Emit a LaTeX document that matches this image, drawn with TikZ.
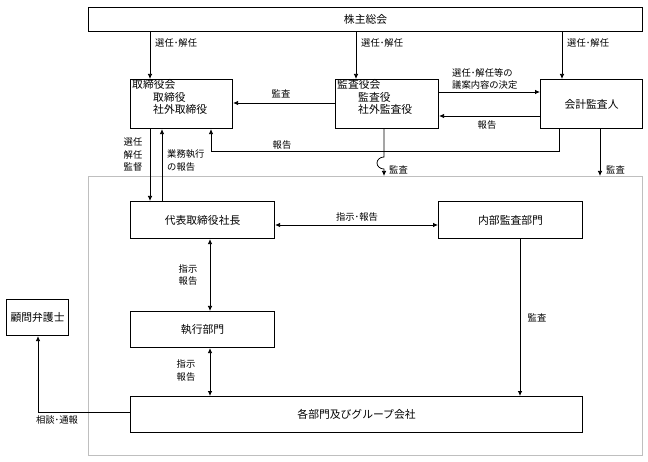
\documentclass[tikz,border=0pt]{standalone}
\usepackage{fontspec}
\setmainfont{Noto Sans CJK JP}
\usetikzlibrary{arrows.meta}
\begin{document}
\begin{tikzpicture}[x=1pt,y=-1pt,
  box/.style={draw, line width=1.1pt, inner sep=0pt, anchor=north west},
  txt/.style={font=\fontsize{10.8pt}{12.5pt}\selectfont, inner sep=0pt},
  lbl/.style={font=\fontsize{9.3pt}{12.7pt}\selectfont, inner sep=0pt},
  con/.style={line width=0.75pt, -{Latex[length=5pt,width=4.5pt]}},
  dcon/.style={line width=0.75pt, {Latex[length=5pt,width=4.5pt]}-{Latex[length=5pt,width=4.5pt]}},
  ln/.style={line width=0.75pt}]
\useasboundingbox (0,0) rectangle (648,462);
% boxes
\node[box, minimum width=554pt, minimum height=24pt] (top) at (88,7) {};
\node[txt] (topt) at (top.center) {株主総会};
\node[box, minimum width=102pt, minimum height=49pt] (tori) at (130,79) {};
\node[txt, anchor=north west, align=left] (torit) at (132,79.5) {取締役会\\\hspace*{21pt}取締役\\\hspace*{21pt}社外取締役};
\node[box, minimum width=103pt, minimum height=49pt] (kan) at (335,79) {};
\node[txt, anchor=north west, align=left] (kant) at (337,79.5) {監査役会\\\hspace*{21pt}監査役\\\hspace*{21pt}社外監査役};
\node[box, minimum width=102pt, minimum height=49pt] (kai) at (540,79) {};
\node[txt] (kait) at (kai.center) {会計監査人};
\node[draw=black!25, line width=0.8pt, inner sep=0pt, anchor=north west, minimum width=554pt, minimum height=279pt] (corp) at (88,176) {};
\node[box, minimum width=144pt, minimum height=37pt] (pres) at (130,201) {};
\node[txt] (prest) at (pres.center) {代表取締役社長};
\node[box, minimum width=144pt, minimum height=37pt] (nai) at (438,201) {};
\node[txt] (nait) at (nai.center) {内部監査部門};
\node[box, minimum width=144pt, minimum height=36pt] (shik) at (130,311) {};
\node[txt] (shikt) at (shik.center) {執行部門};
\node[box, minimum width=452pt, minimum height=36pt] (kaku) at (130,396) {};
\node[txt] (kakut) at (kaku.center) {各部門及びグループ会社};
\node[box, minimum width=62pt, minimum height=36pt] (ben) at (6,299) {};
\node[txt] (bent) at (ben.center) {顧問弁護士};
% x positions
\coordinate (x1) at (150,0);
\coordinate (x2) at (356,0);
\coordinate (x3) at (562,0);
\coordinate (x4) at (162,0);
\coordinate (x5) at (211,0);
\coordinate (x6) at (384,0);
\coordinate (x7) at (559,0);
\coordinate (x8) at (600,0);
\coordinate (x9) at (210,0);
\coordinate (x10) at (520,0);
\coordinate (x11) at (38,0);
\coordinate (y1) at (0,92);
\coordinate (y2) at (0,103);
\coordinate (y3) at (0,116);
\coordinate (y4) at (0,151);
\coordinate (y5) at (0,225);
\coordinate (y6) at (0,412);
% top arrows
\draw[con] (x1 |- top.south) -- (x1 |- tori.north);
\draw[con] (x2 |- top.south) -- (x2 |- kan.north);
\draw[con] (x3 |- top.south) -- (x3 |- kai.north);
\node[lbl, anchor=west] (l1) at (155,43) {選任･解任};
\node[lbl, anchor=west] (l2) at (361,43) {選任･解任};
\node[lbl, anchor=west] (l3) at (567,43) {選任･解任};
% between upper boxes
\draw[con] (kan.west |- y2) -- (tori.east |- y2);
\node[lbl] (l4) at (281,94) {監査};
\draw[con] (kan.east |- y1) -- (kai.west |- y1);
\node[lbl, anchor=north west, align=left] (l5) at (452,68) {選任･解任等の\\議案内容の決定};
\draw[con] (kai.west |- y3) -- (kan.east |- y3);
\node[lbl] (l6) at (487,125) {報告};
% report loop
\draw[con] (x7 |- kai.south) -- (x7 |- y4) -- (x5 |- y4) -- (x5 |- tori.south);
\node[lbl] (l7) at (282,145) {報告};
% audit with jump
\draw[con] (x6 |- kan.south) -- ([yshift=-6pt]x6 |- y4) arc[start angle=90, end angle=270, x radius=7pt, y radius=6pt] -- (x6 |- corp.north);
\node[lbl, anchor=west] (l8) at (389,170) {監査};
\draw[con] (x8 |- kai.south) -- (x8 |- corp.north);
\node[lbl, anchor=west] (l9) at (606,170) {監査};
% board <-> president
\draw[con] (x1 |- tori.south) -- (x1 |- pres.north);
\draw[con] (x4 |- pres.north) -- (x4 |- tori.south);
\node[lbl, align=center] (l10) at (133,154.5) {選任\\解任\\監督};
\node[lbl, anchor=west, align=left] (l11) at (167,160.5) {業務執行\\の報告};
% president <-> internal audit
\draw[dcon] (pres.east |- y5) -- (nai.west |- y5);
\node[lbl] (l12) at (357,217) {指示･報告};
% president <-> executive
\draw[dcon] (x9 |- pres.south) -- (x9 |- shik.north);
\node[lbl, align=center] (l13) at (188,275) {指示\\報告};
\draw[dcon] (x9 |- shik.south) -- (x9 |- kaku.north);
\node[lbl, align=center] (l14) at (186,370.5) {指示\\報告};
% internal audit -> departments
\draw[con] (x10 |- nai.south) -- (x10 |- kaku.north);
\node[lbl] (l15) at (537,318) {監査};
% lawyer
\draw[con] (kaku.west |- y6) -- (x11 |- y6) -- (x11 |- ben.south);
\node[lbl] (l16) at (57,420) {相談･通報};
\end{tikzpicture}
\end{document}
